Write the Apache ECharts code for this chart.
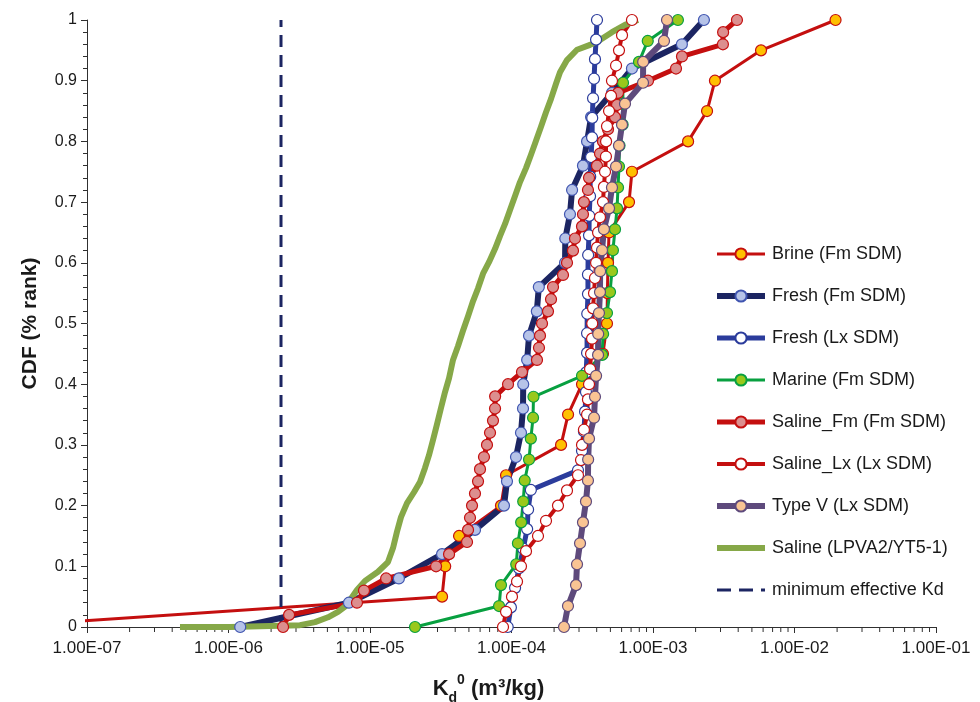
<!DOCTYPE html>
<html>
<head>
<meta charset="utf-8">
<title>Kd CDF</title>
<script src="https://cdn.jsdelivr.net/npm/echarts@6/dist/echarts.min.js"></script>
<style>
  html, body { margin: 0; padding: 0; background: #ffffff; }
  #chart { width: 980px; height: 702px; }
</style>
</head>
<body>
<div id="chart"></div>
<script>
// Kd0 (m3/kg) vs CDF rank for each sample group: [Kd, rank]
const brineFm = [[2.2e-8,0],[3.23e-5,0.05],[3.4e-5,0.1],[4.26e-5,0.15],[8.43e-5,0.2],[9.15e-5,0.25],[2.24e-4,0.3],[2.51e-4,0.35],[3.15e-4,0.4],[4.43e-4,0.45],[4.73e-4,0.5],[4.76e-4,0.55],[4.81e-4,0.6],[4.89e-4,0.65],[6.77e-4,0.7],[7.1e-4,0.75],[1.77e-3,0.8],[2.41e-3,0.85],[2.74e-3,0.9],[5.8e-3,0.95],[1.95e-2,1]];

const freshFm = [[1.21e-6,0],[7.1e-6,0.04],[1.6e-5,0.08],[3.23e-5,0.12],[5.52e-5,0.16],[8.85e-5,0.2],[9.29e-5,0.24],[1.076e-4,0.28],[1.167e-4,0.32],[1.206e-4,0.36],[1.21e-4,0.4],[1.29e-4,0.44],[1.33e-4,0.48],[1.51e-4,0.52],[1.56e-4,0.56],[2.39e-4,0.6],[2.4e-4,0.64],[2.59e-4,0.68],[2.68e-4,0.72],[3.2e-4,0.76],[3.42e-4,0.8],[3.65e-4,0.84],[5.13e-4,0.88],[7.1e-4,0.92],[1.6e-3,0.96],[2.29e-3,1]];

const freshLx = [[9.4e-5,0],[9.9e-5,0.0323],[1.06e-4,0.0645],[1.13e-4,0.0968],[1.21e-4,0.129],[1.29e-4,0.1613],[1.31e-4,0.1935],[1.37e-4,0.2258],[2.95e-4,0.2581],[3.15e-4,0.2903],[3.25e-4,0.3226],[3.31e-4,0.3548],[3.36e-4,0.3871],[3.37e-4,0.4194],[3.42e-4,0.4516],[3.42e-4,0.4839],[3.43e-4,0.5161],[3.47e-4,0.5484],[3.47e-4,0.5806],[3.48e-4,0.6129],[3.53e-4,0.6452],[3.54e-4,0.6774],[3.59e-4,0.7097],[3.6e-4,0.7419],[3.65e-4,0.7742],[3.71e-4,0.8065],[3.72e-4,0.8387],[3.77e-4,0.871],[3.83e-4,0.9032],[3.89e-4,0.9355],[3.96e-4,0.9677],[4.02e-4,1]];

const marineFm = [[2.08e-5,0],[8.17e-5,0.0345],[8.43e-5,0.069],[1.08e-4,0.1034],[1.11e-4,0.1379],[1.17e-4,0.1724],[1.21e-4,0.2069],[1.24e-4,0.2414],[1.33e-4,0.2759],[1.37e-4,0.3103],[1.42e-4,0.3448],[1.43e-4,0.3793],[3.15e-4,0.4138],[4.37e-4,0.4483],[4.44e-4,0.4828],[4.73e-4,0.5172],[4.97e-4,0.5517],[5.13e-4,0.5862],[5.21e-4,0.6207],[5.39e-4,0.6552],[5.57e-4,0.6897],[5.66e-4,0.7241],[5.75e-4,0.7586],[5.8e-4,0.7931],[6.1e-4,0.8276],[6.12e-4,0.8621],[6.14e-4,0.8966],[7.96e-4,0.931],[9.18e-4,0.9655],[1.5e-3,1]];

const salineFm = [[2.43e-6,0],[2.68e-6,0.02],[8.09e-6,0.04],[9.07e-6,0.06],[1.3e-5,0.08],[2.93e-5,0.1],[3.62e-5,0.12],[4.85e-5,0.14],[4.93e-5,0.16],[5.09e-5,0.18],[5.26e-5,0.2],[5.52e-5,0.22],[5.8e-5,0.24],[5.99e-5,0.26],[6.39e-5,0.28],[6.71e-5,0.3],[7.05e-5,0.32],[7.4e-5,0.34],[7.65e-5,0.36],[7.66e-5,0.38],[9.45e-5,0.4],[1.186e-4,0.42],[1.514e-4,0.44],[1.564e-4,0.46],[1.59e-4,0.48],[1.643e-4,0.5],[1.811e-4,0.52],[1.902e-4,0.54],[1.965e-4,0.56],[2.312e-4,0.58],[2.467e-4,0.6],[2.72e-4,0.62],[2.81e-4,0.64],[3.15e-4,0.66],[3.2e-4,0.68],[3.25e-4,0.7],[3.47e-4,0.72],[3.53e-4,0.74],[4.02e-4,0.76],[4.22e-4,0.78],[4.43e-4,0.8],[4.81e-4,0.82],[5.39e-4,0.84],[5.57e-4,0.86],[5.66e-4,0.88],[9.22e-4,0.9],[1.454e-3,0.92],[1.603e-3,0.94],[3.12e-3,0.96],[3.13e-3,0.98],[3.92e-3,1]];

const salineLx = [[8.71e-5,0],[9.15e-5,0.025],[1.008e-4,0.05],[1.094e-4,0.075],[1.167e-4,0.1],[1.266e-4,0.125],[1.539e-4,0.15],[1.753e-4,0.175],[2.131e-4,0.2],[2.467e-4,0.225],[2.951e-4,0.25],[3.099e-4,0.275],[3.15e-4,0.3],[3.25e-4,0.325],[3.42e-4,0.35],[3.47e-4,0.375],[3.53e-4,0.4],[3.59e-4,0.425],[3.65e-4,0.45],[3.71e-4,0.475],[3.72e-4,0.5],[3.77e-4,0.525],[3.83e-4,0.55],[3.89e-4,0.575],[3.96e-4,0.6],[4.02e-4,0.625],[4.09e-4,0.65],[4.22e-4,0.675],[4.43e-4,0.7],[4.5e-4,0.725],[4.58e-4,0.75],[4.65e-4,0.775],[4.66e-4,0.8],[4.73e-4,0.825],[4.89e-4,0.85],[5.05e-4,0.875],[5.13e-4,0.9],[5.48e-4,0.925],[5.75e-4,0.95],[6.04e-4,0.975],[7.1e-4,1]];

const typeVLx = [[2.35e-4,0],[2.507e-4,0.0345],[2.857e-4,0.069],[2.904e-4,0.1034],[3.05e-4,0.1379],[3.2e-4,0.1724],[3.36e-4,0.2069],[3.47e-4,0.2414],[3.48e-4,0.2759],[3.53e-4,0.3103],[3.83e-4,0.3448],[3.89e-4,0.3793],[3.96e-4,0.4138],[4.09e-4,0.4483],[4.1e-4,0.4828],[4.15e-4,0.5172],[4.22e-4,0.5517],[4.23e-4,0.5862],[4.36e-4,0.6207],[4.5e-4,0.6552],[4.89e-4,0.6897],[5.13e-4,0.7241],[5.48e-4,0.7586],[5.75e-4,0.7931],[6.04e-4,0.8276],[6.34e-4,0.8621],[8.5e-4,0.8966],[8.52e-4,0.931],[1.196e-3,0.9655],[1.256e-3,1]];

const salineLpva2 = [[4.54e-7,0],[1.025e-6,0],[2.31e-6,0.002],[3.2e-6,0.003],[4.09e-6,0.008],[5.05e-6,0.016],[5.94e-6,0.025],[6.77e-6,0.035],[7.46e-6,0.049],[8.09e-6,0.061],[9.22e-6,0.076],[1.139e-5,0.091],[1.34e-5,0.107],[1.454e-5,0.13],[1.551e-5,0.157],[1.656e-5,0.181],[1.826e-5,0.204],[2.046e-5,0.222],[2.256e-5,0.239],[2.447e-5,0.262],[2.612e-5,0.283],[2.788e-5,0.308],[2.975e-5,0.334],[3.176e-5,0.361],[3.39e-5,0.387],[3.62e-5,0.41],[3.86e-5,0.44],[4.19e-5,0.463],[4.54e-5,0.488],[4.93e-5,0.512],[5.35e-5,0.537],[5.8e-5,0.558],[6.29e-5,0.582],[6.93e-5,0.601],[7.65e-5,0.623],[8.29e-5,0.644],[9.0e-5,0.664],[9.76e-5,0.687],[1.059e-4,0.71],[1.148e-4,0.733],[1.266e-4,0.756],[1.373e-4,0.778],[1.49e-4,0.801],[1.616e-4,0.824],[1.753e-4,0.848],[1.902e-4,0.87],[2.063e-4,0.895],[2.202e-4,0.914],[2.467e-4,0.934],[2.904e-4,0.951],[3.59e-4,0.959],[4.22e-4,0.967],[5.13e-4,0.98],[6.34e-4,0.992],[7.83e-4,1]];

const minEffectiveKd = [[2.35e-6,0],[2.35e-6,1]];

const seriesNames = ['Brine (Fm SDM)','Fresh (Fm SDM)','Fresh (Lx SDM)','Marine (Fm SDM)','Saline_Fm (Fm SDM)','Saline_Lx (Lx SDM)','Type V (Lx SDM)','Saline (LPVA2/YT5-1)','minimum effective Kd'];
const xTickLabels = ['1.00E-07','1.00E-06','1.00E-05','1.00E-04','1.00E-03','1.00E-02','1.00E-01'];
const yTickLabels = ['0','0.1','0.2','0.3','0.4','0.5','0.6','0.7','0.8','0.9','1'];

// Log minor tick positions (2..9 within each decade) for the Kd axis
const xMinorTicks = [];
for (let e = -7; e < -1; e++) {
  for (let k = 2; k <= 9; k++) xMinorTicks.push([k * Math.pow(10, e), 0]);
}

const FONT = "'Liberation Sans', Arial, sans-serif";
const AXIS = '#303030';
const TEXT = '#1a1a1a';
const HIDDEN_MARK = { color: 'rgba(0,0,0,0)', borderColor: 'rgba(0,0,0,0)', borderWidth: 0 };

// Line styles per series (line colour, line width, marker fill, marker border)
const styles = [
  ['#c40f0f', 3, '#ffc000', '#c40f0f'],
  ['#1c2562', 6, '#b6c3e8', '#4055b0'],
  ['#2b3c9c', 5, '#ffffff', '#2b3c9c'],
  ['#08a040', 3, '#99c81c', '#08a040'],
  ['#c40f0f', 5, '#dc8e8e', '#c40f0f'],
  ['#c40f0f', 4, '#ffffff', '#c40f0f'],
  ['#5e4a7c', 6, '#f9c493', '#5e4a7c'],
  ['#86a848', 6, null, null],
  ['#1c2562', 3, null, null]
];

function markedLine(idx, data) {
  const s = styles[idx];
  return {
    name: seriesNames[idx], type: 'line', data: data,
    symbol: 'circle', symbolSize: 11, showSymbol: true,
    lineStyle: { color: s[0], width: s[1], join: 'round' },
    itemStyle: { color: s[2], borderColor: s[3], borderWidth: 1.2 },
    emphasis: { disabled: true }, clip: true, animation: false
  };
}

const legendItems = seriesNames.map(function (n, i) {
  const item = { name: n, lineStyle: { width: styles[i][1] } };
  if (i === 8) item.lineStyle.type = [14, 8];
  return item;
});

const chart = echarts.init(document.getElementById('chart'), null, { renderer: 'canvas' });

chart.setOption({
  backgroundColor: '#ffffff',
  animation: false,
  grid: { left: 87, right: 44, top: 20, bottom: 75, containLabel: false, outerBoundsMode: 'none' },
  legend: {
    orient: 'vertical', left: 714, top: 245, padding: 0,
    itemWidth: 48, itemHeight: 14, itemGap: 24,
    data: legendItems,
    textStyle: { fontSize: 18, color: TEXT, fontFamily: FONT, padding: [0, 0, 0, 2] },
    selectedMode: false
  },
  xAxis: {
    type: 'log', logBase: 10, min: 1e-7, max: 1e-1, splitNumber: 6,
    axisLine: { show: true, lineStyle: { color: AXIS, width: 1 } },
    axisTick: { show: true, length: 6, lineStyle: { color: AXIS } },
    minorTick: { show: false },
    splitLine: { show: false },
    axisLabel: {
      fontSize: 17, color: TEXT, fontFamily: FONT, margin: 13,
      formatter: function (v) {
        const i = Math.round(Math.log10(v)) + 7;
        return xTickLabels[i] !== undefined ? xTickLabels[i] : '';
      }
    },
    name: '{k|K}{sub|d}{sup|0}{k| (m³/kg)}',
    nameLocation: 'middle', nameGap: 46,
    nameTextStyle: {
      padding: [0, 46, 0, 0],
      rich: {
        k: { fontSize: 22, fontWeight: 'bold', color: TEXT, fontFamily: FONT, lineHeight: 32 },
        sub: { fontSize: 14, fontWeight: 'bold', color: TEXT, fontFamily: FONT, lineHeight: 12, verticalAlign: 'bottom' },
        sup: { fontSize: 14, fontWeight: 'bold', color: TEXT, fontFamily: FONT, lineHeight: 12, verticalAlign: 'top' }
      }
    }
  },
  yAxis: {
    type: 'value', min: 0, max: 1, interval: 0.1,
    axisLine: { show: true, lineStyle: { color: AXIS, width: 1 } },
    axisTick: { show: true, length: 6, lineStyle: { color: AXIS } },
    minorTick: { show: true, splitNumber: 5, length: 4, lineStyle: { color: AXIS } },
    splitLine: { show: false },
    axisLabel: {
      fontSize: 16, color: TEXT, fontFamily: FONT, margin: 10,
      formatter: function (v) { return yTickLabels[Math.round(v * 10)]; }
    },
    name: 'CDF (% rank)', nameLocation: 'middle', nameGap: 46,
    nameTextStyle: { fontSize: 21, fontWeight: 'bold', color: TEXT, fontFamily: FONT }
  },
  series: [
    markedLine(0, brineFm),
    markedLine(1, freshFm),
    markedLine(2, freshLx),
    markedLine(3, marineFm),
    markedLine(4, salineFm),
    markedLine(5, salineLx),
    markedLine(6, typeVLx),
    {
      name: seriesNames[7], type: 'line', data: salineLpva2,
      symbol: 'none', lineStyle: { color: styles[7][0], width: styles[7][1], join: 'round' },
      itemStyle: HIDDEN_MARK,
      emphasis: { disabled: true }, clip: true, animation: false
    },
    {
      name: seriesNames[8], type: 'line', data: minEffectiveKd,
      symbol: 'none', lineStyle: { color: styles[8][0], width: styles[8][1], type: [12, 8] },
      itemStyle: HIDDEN_MARK,
      emphasis: { disabled: true }, clip: true, animation: false
    },
    {
      name: 'xMinorTicks', type: 'custom', data: xMinorTicks, silent: true, clip: false,
      renderItem: function (params, api) {
        const p = api.coord([api.value(0), 0]);
        return {
          type: 'line',
          shape: { x1: p[0], y1: p[1], x2: p[0], y2: p[1] + 5 },
          style: { stroke: AXIS, lineWidth: 1 }
        };
      }
    }
  ]
});
</script>
</body>
</html>
